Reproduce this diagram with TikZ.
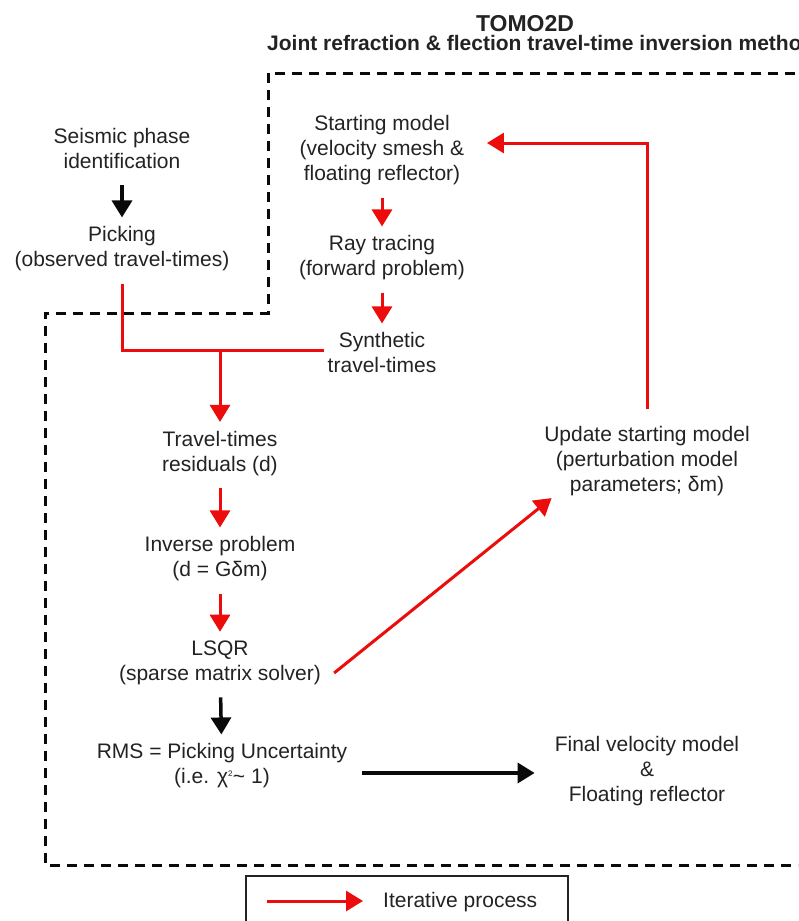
\documentclass[tikz,border=0pt]{standalone}
\usepackage{fontspec}
\setmainfont{Liberation Sans}
\usetikzlibrary{arrows.meta,calc}
\definecolor{itred}{RGB}{236,12,12}
\definecolor{txtc}{RGB}{35,35,35}
\definecolor{blk}{RGB}{10,10,10}
\begin{document}
\begin{tikzpicture}[x=1pt,y=-1pt,
  lbl/.style={align=center,text=txtc,font=\fontsize{21}{25}\selectfont,
    inner xsep=4pt,inner ysep=9pt,
    execute at begin node=\strut,execute at end node=\strut},
  redarrow/.style={draw=itred,line width=3pt,-{Triangle[length=17pt,width=20pt]}},
  redline/.style={draw=itred,line width=3pt},
  blkarrow/.style={draw=blk,line width=3.5pt,-{Triangle[length=17pt,width=20pt]}},
  dashbox/.style={draw=blk,line width=3pt,dash pattern=on 10pt off 7pt},
  legendbox/.style={draw=txtc,line width=1.5pt,minimum width=322pt,minimum height=70pt,inner sep=0pt}]
\clip (0,0) rectangle (798,921);
\fill[white] (0,0) rectangle (798,921);

% titles
\node[anchor=base,inner sep=0pt,font=\bfseries\fontsize{23}{26}\selectfont,text=txtc] (title) at (525,31) {TOMO2D};
\node[anchor=base west,font=\bfseries\fontsize{21}{24}\selectfont,text=txtc,inner sep=0pt] (subtitle) at (267,50)
  {Joint refraction \& flection travel-time inversion method};

% dashed frame
\draw[dashbox] (812,73) -- (268,73) -- (268,313) -- (45,313) -- (45,865) -- (812,865);

% nodes
\node[lbl] (seismic) at (122,152) {Seismic phase\\identification};
\node[lbl] (picking) at (122,250.5) {Picking\\(observed travel-times)};
\node[lbl] (start) at (382,152) {Starting model\\(velocity smesh \&\\floating reflector)};
\node[lbl] (ray) at (382,259.5) {Ray tracing\\(forward problem)};
\node[lbl] (synth) at (382,356.5) {Synthetic\\travel-times};
\node[lbl] (resid) at (220,455) {Travel-times\\residuals (d)};
\node[lbl] (inverse) at (220,560.5) {Inverse problem\\(d = Gδm)};
\node[lbl] (lsqr) at (220,664.5) {LSQR\\(sparse matrix solver)};
\node[lbl] (rms) at (222,767.5) {RMS = Picking Uncertainty\\(i.e. χ\textsuperscript{\fontsize{8}{8}\selectfont 2}\textasciitilde\ 1)};
\node[lbl] (final) at (647,773) {Final velocity model\\\&\\Floating reflector};
\node[lbl] (update) at (647,463) {Update starting model\\(perturbation model\\parameters; δm)};

% connectors
\draw[blkarrow] (seismic) -- (picking);
\draw[redarrow] (start) -- (ray);
\draw[redarrow] (ray) -- (synth);
\path ([yshift=6.5pt]synth.west) coordinate (sw);
\draw[redline] (picking.south) |- (sw);
\coordinate (j) at (resid.north |- sw);
\draw[redarrow] (j) -- (resid.north);
\draw[redarrow] (resid) -- (inverse);
\draw[redarrow] (inverse) -- (lsqr);
\draw[blkarrow] (lsqr) -- (rms);
\draw[blkarrow,shorten >=16pt] ([xshift=11pt]rms.east |- final.west) -- (final.west);
\draw[redarrow] ([xshift=9pt,yshift=-8.5pt]lsqr.east) -- ([xshift=11.5pt,yshift=10.5pt]update.south west);
\draw[redarrow,shorten <=8.5pt] (update.north) |- ([xshift=18.5pt,yshift=9pt]start.east);

% legend
\node[legendbox] (legend) at (407,911) {};
\coordinate (la) at (267,901);
\coordinate (lb) at (363,901);
\draw[redarrow] (la) -- (lb);
\node[anchor=base west,inner sep=0pt,text=txtc,font=\fontsize{21}{25}\selectfont] (legtext) at (383,907) {Iterative process};
\end{tikzpicture}
\end{document}
